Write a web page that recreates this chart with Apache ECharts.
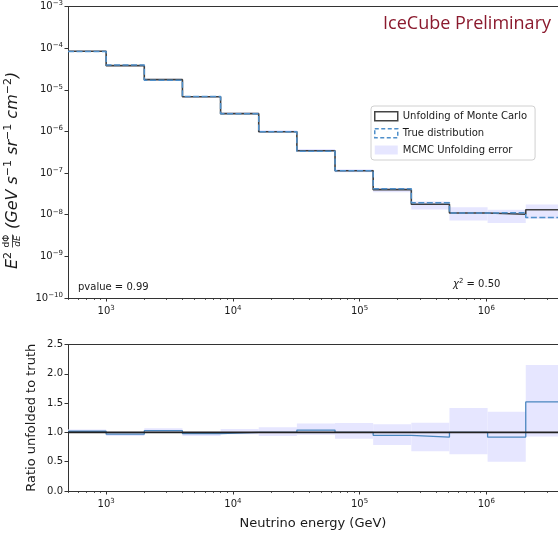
<!DOCTYPE html>
<html><head><meta charset="utf-8">
<script src="https://cdn.jsdelivr.net/npm/echarts@6/dist/echarts.min.js"></script>
<style>html,body{margin:0;padding:0;background:#fff}#c{width:558px;height:536px}</style>
</head><body><div id="c"></div>
<script>
// ---- data ----
const binEdges = [500, 1000, 2000, 4000, 8000, 16000, 32000, 64000, 128000, 256000, 512000, 1024000, 2048000, 4096000];
const unfolded = [8.4e-5, 3.8e-5, 1.75e-5, 6.8e-6, 2.67e-6, 9.8e-7, 3.45e-7, 1.14e-7, 4.0e-8, 1.78e-8, 1.1e-8, 1.03e-8, 1.32e-8];
const truth    = [8.25e-5, 3.92e-5, 1.70e-5, 6.9e-6, 2.67e-6, 9.8e-7, 3.32e-7, 1.14e-7, 4.2e-8, 1.93e-8, 1.1e-8, 1.12e-8, 8.6e-9];
const bandLow  = [8.1e-5, 3.65e-5, 1.68e-5, 6.5e-6, 2.58e-6, 9.3e-7, 3.27e-7, 1.05e-7, 3.47e-8, 1.34e-8, 7.3e-9, 6.3e-9, 8.0e-9];
const bandHigh = [8.7e-5, 3.95e-5, 1.83e-5, 7.0e-6, 2.83e-6, 1.07e-6, 3.8e-7, 1.23e-7, 4.4e-8, 2.08e-8, 1.52e-8, 1.32e-8, 1.76e-8];
const ratio     = [1.02, 0.97, 1.03, 0.98, 1.0, 1.0, 1.04, 1.0, 0.95, 0.92, 1.0, 0.92, 1.52];
const ratioLow  = [0.99, 0.94, 0.99, 0.94, 0.97, 0.94, 0.96, 0.89, 0.785, 0.68, 0.626, 0.5, 0.93];
const ratioHigh = [1.05, 1.01, 1.07, 1.01, 1.06, 1.09, 1.15, 1.16, 1.14, 1.165, 1.416, 1.353, 2.15];
const refLevel = 1.0;
// ---- axis ranges and ticks ----
const xMin = 500, xMax = 3.68e6;   // the visible part of the energy axis
const xMajorTicks = [1e3, 1e4, 1e5, 1e6];
const minorMantissa = [2, 3, 4, 5, 6, 7, 8, 9];
const xMinorDecades = [1e2, 1e3, 1e4, 1e5, 1e6];
const yMajorTicks = [1e-10, 1e-9, 1e-8, 1e-7, 1e-6, 1e-5, 1e-4, 1e-3];
const yMinorDecades = [1e-10, 1e-9, 1e-8, 1e-7, 1e-6, 1e-5, 1e-4];
const ratioTickLabels = ['0.0', '0.5', '1.0', '1.5', '2.0', '2.5'];

const xMinorTicks = [];
xMinorDecades.forEach(d => minorMantissa.forEach(m => xMinorTicks.push(m * d)));
const yMinorTicks = [];
yMinorDecades.forEach(d => minorMantissa.forEach(m => yMinorTicks.push(m * d)));

function stepPoints(vals) {
  const pts = [];
  vals.forEach((v, i) => { pts.push([binEdges[i], v]); pts.push([binEdges[i + 1], v]); });
  return pts;
}
function bandData(lo, hi) {
  return lo.map((l, i) => [binEdges[i], binEdges[i + 1], l, hi[i]]);
}
const BAND = '#e6e6ff';
function bandRender(params, api) {
  const p0 = api.coord([api.value(0), api.value(3)]);
  const p1 = api.coord([api.value(1), api.value(2)]);
  const cs = params.coordSys;
  const shape = echarts.graphic.clipRectByRect(
    { x: p0[0], y: p0[1], width: p1[0] - p0[0], height: p1[1] - p0[1] },
    { x: cs.x, y: cs.y, width: cs.width, height: cs.height });
  return shape && { type: 'rect', shape: shape, style: { fill: BAND } };
}

const FONT = 'DejaVu Sans';
const TXT = '#1a1a1a';
const AX = '#333';
const rich = {
  b: { fontSize: 10, color: TXT, fontFamily: FONT },
  s: { fontSize: 7, color: TXT, fontFamily: FONT, padding: [0, 0, 6, 0] }
};
function powLabel(v) {
  const e = Math.round(Math.log10(v));
  return '{b|10}{s|' + (e < 0 ? '\u2212' + (-e) : e) + '}';
}
function logX(grid, kind, name) {
  const base = {
    gridIndex: grid, type: 'log', logBase: 10, min: xMin, max: xMax,
    splitLine: { show: false }, minorTick: { show: false }
  };
  if (kind === 'major') {
    return Object.assign(base, {
      position: 'bottom',
      axisLine: { show: true, onZero: false, lineStyle: { color: AX, width: 1 } },
      axisTick: { show: true, customValues: xMajorTicks, length: 3.5, lineStyle: { color: AX, width: 1 } },
      axisLabel: { show: true, customValues: xMajorTicks, formatter: powLabel, rich: rich, margin: 7 },
      name: name || '', nameLocation: 'middle', nameGap: 26,
      nameTextStyle: { fontSize: 13, color: TXT, fontFamily: FONT }
    });
  }
  if (kind === 'minor') {
    return Object.assign(base, {
      position: 'bottom',
      axisLine: { show: false },
      axisTick: { show: true, customValues: xMinorTicks, length: 2, lineStyle: { color: AX, width: 0.8 } },
      axisLabel: { show: false }
    });
  }
  return Object.assign(base, {   // top spine
    position: 'top',
    axisLine: { show: true, onZero: false, lineStyle: { color: AX, width: 1 } },
    axisTick: { show: false }, axisLabel: { show: false }
  });
}

const W = 490;
const option = {
  animation: false,
  backgroundColor: '#fff',
  textStyle: { fontFamily: FONT },
  grid: [
    { left: 68, top: 5, width: W, height: 293, show: false },
    { left: 68, top: 344.5, width: W, height: 146.5, show: false }
  ],
  xAxis: [logX(0, 'major'), logX(0, 'minor'), logX(0, 'top'),
          logX(1, 'major', 'Neutrino energy (GeV)'), logX(1, 'minor'), logX(1, 'top')],
  yAxis: [
    { gridIndex: 0, type: 'log', logBase: 10, min: 1e-10, max: 1e-3,
      axisLine: { show: true, onZero: false, lineStyle: { color: AX, width: 1 } },
      axisTick: { show: true, customValues: yMajorTicks, length: 3.5, lineStyle: { color: AX } },
      axisLabel: { show: true, customValues: yMajorTicks, formatter: powLabel, rich: rich, margin: 5 },
      splitLine: { show: false }, minorTick: { show: false } },
    { gridIndex: 0, type: 'log', logBase: 10, min: 1e-10, max: 1e-3,
      axisLine: { show: false },
      axisTick: { show: true, customValues: yMinorTicks, length: 2, lineStyle: { color: AX, width: 0.8 } },
      axisLabel: { show: false }, splitLine: { show: false } },
    { gridIndex: 1, type: 'value', min: 0, max: 2.5, interval: 0.5,
      axisLine: { show: true, onZero: false, lineStyle: { color: AX, width: 1 } },
      axisTick: { show: true, length: 3.5, lineStyle: { color: AX } },
      axisLabel: { formatter: (v) => ratioTickLabels[Math.round(v / 0.5)], fontSize: 10, color: TXT, margin: 5 },
      splitLine: { show: false } }
  ],
  legend: {
    orient: 'vertical', left: 371, top: 106, width: 166,
    backgroundColor: '#fff', borderColor: '#d0d0d0', borderWidth: 1, borderRadius: 3,
    padding: [5, 8, 5, 3], itemWidth: 23, itemHeight: 9, itemGap: 6.5,
    textStyle: { fontSize: 10, color: TXT, fontFamily: FONT },
    selectedMode: false,
    data: [
      { name: 'Unfolding of Monte Carlo', icon: 'rect', itemStyle: { color: '#fff', borderColor: '#444', borderWidth: 1.5 } },
      { name: 'True distribution', icon: 'rect', itemStyle: { color: '#fff', borderColor: '#4f8fca', borderWidth: 1.5, borderType: [4, 2.5] } },
      { name: 'MCMC Unfolding error', icon: 'rect', itemStyle: { color: BAND, borderWidth: 0 } }
    ]
  },
  series: [
    { type: 'custom', name: 'MCMC Unfolding error', xAxisIndex: 0, yAxisIndex: 0, renderItem: bandRender,
      data: bandData(bandLow, bandHigh), encode: { x: [0, 1], y: [2, 3] }, itemStyle: { color: BAND }, z: 1, silent: true },
    { type: 'line', name: 'Unfolding of Monte Carlo', xAxisIndex: 0, yAxisIndex: 0, data: stepPoints(unfolded),
      showSymbol: false, symbol: 'none', clip: true, lineStyle: { color: '#3d3d3d', width: 1.6 }, itemStyle: { color: '#3d3d3d' }, z: 2, silent: true },
    { type: 'line', name: 'True distribution', xAxisIndex: 0, yAxisIndex: 0, data: stepPoints(truth),
      showSymbol: false, symbol: 'none', clip: true, lineStyle: { color: '#4f8fca', width: 1.5, type: [6, 2.5] }, itemStyle: { color: '#4f8fca' }, z: 3, silent: true },
    { type: 'custom', name: 'MCMC Unfolding error', xAxisIndex: 3, yAxisIndex: 2, renderItem: bandRender,
      data: bandData(ratioLow, ratioHigh), encode: { x: [0, 1], y: [2, 3] }, itemStyle: { color: BAND }, z: 1, silent: true },
    { type: 'line', name: 'ratio', xAxisIndex: 3, yAxisIndex: 2, data: stepPoints(ratio),
      showSymbol: false, symbol: 'none', clip: true, lineStyle: { color: '#4a86bf', width: 1.3 }, z: 2, silent: true },
    { type: 'line', name: 'reference', xAxisIndex: 3, yAxisIndex: 2,
      data: [[binEdges[0], refLevel], [binEdges[binEdges.length - 1], refLevel]],
      showSymbol: false, symbol: 'none', clip: true, lineStyle: { color: '#222', width: 1.6 }, z: 3, silent: true }
  ],
  graphic: [
    { type: 'text', x: 551, y: 24, style: { text: 'IceCube Preliminary', fontFamily: 'Open Sans', fontSize: 18, fill: '#8b1a2e', align: 'right', verticalAlign: 'middle' } },
    { type: 'text', x: 78, y: 287, style: { text: 'pvalue = 0.99', fontFamily: FONT, fontSize: 10, fill: TXT, align: 'left', verticalAlign: 'middle' } },
    { type: 'text', x: 453, y: 284, style: { text: '{i|\u03c7}{s|2}{b| = 0.50}', align: 'left', verticalAlign: 'middle',
        rich: { i: { fontSize: 10, fontStyle: 'italic', fill: TXT, fontFamily: FONT }, b: { fontSize: 10, fill: TXT, fontFamily: FONT },
                s: { fontSize: 7, fill: TXT, fontFamily: FONT, padding: [0, 0, 6, 0] } } } },
    { type: 'group', x: 12.5, y: 166, rotation: Math.PI / 2, children: [
      { type: 'text', x: -103, y: 0, style: { text: '{i|E}{s|2}', align: 'left', verticalAlign: 'middle',
          rich: { i: { fontSize: 16, fontStyle: 'italic', fill: TXT, fontFamily: FONT }, s: { fontSize: 11, fill: TXT, fontFamily: FONT, padding: [0, 0, 8, 0] } } } },
      { type: 'text', x: -75, y: -1, style: { text: 'd\u03a6', fontSize: 9, fontFamily: FONT, fill: TXT, align: 'center', verticalAlign: 'bottom' } },
      { type: 'line', shape: { x1: -81.5, y1: 0, x2: -68.5, y2: 0 }, style: { stroke: TXT, lineWidth: 0.8 } },
      { type: 'text', x: -75, y: 1, style: { text: 'dE', fontSize: 9, fontStyle: 'italic', fontFamily: FONT, fill: TXT, align: 'center', verticalAlign: 'top' } },
      { type: 'text', x: -63, y: 0, style: { text: '{i|(GeV s}{s|\u22121}{i| sr}{s|\u22121}{i| cm}{s|\u22122}{i|)}', align: 'left', verticalAlign: 'middle',
          rich: { i: { fontSize: 16, fontStyle: 'italic', fill: TXT, fontFamily: FONT }, s: { fontSize: 11, fill: TXT, fontFamily: FONT, padding: [0, 0, 8, 0] } } } }
    ] },
    { type: 'text', x: 31.5, y: 417.75, rotation: Math.PI / 2, style: { text: 'Ratio unfolded to truth', fontFamily: FONT, fontSize: 13, fill: TXT, align: 'center', verticalAlign: 'middle' } }
  ]
};
const chart = echarts.init(document.getElementById('c'), null, { renderer: 'canvas' });
chart.setOption(option);
</script>
</body></html>
